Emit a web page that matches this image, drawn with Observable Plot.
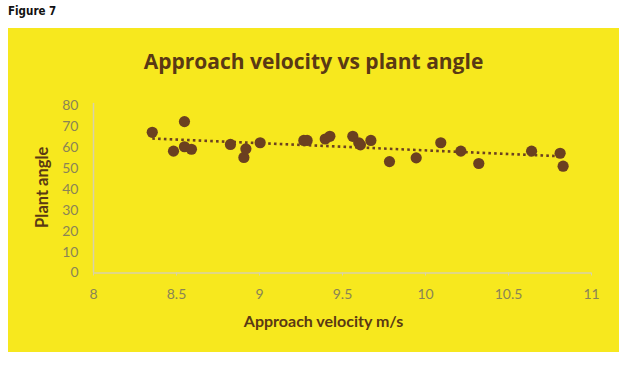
<!DOCTYPE html>
<html><head><meta charset="utf-8">
<script src="https://cdn.jsdelivr.net/npm/d3@7"></script>
<script src="https://cdn.jsdelivr.net/npm/@observablehq/plot@0.6"></script>
<style>
body{margin:0;background:#fff;width:637px;height:367px;position:relative;overflow:hidden;font-family:Lato,"Open Sans",sans-serif;}
#fig{position:absolute;left:8px;top:4px;font-family:"Liberation Sans Narrow","DejaVu Sans Condensed",sans-serif;font-weight:bold;font-size:11.5px;color:#111;}
#box{position:absolute;left:8px;top:28px;width:611px;height:324px;background:#f7e81e;}
#title{position:absolute;left:0;top:19px;width:611px;text-align:center;margin-left:0;font-family:"Open Sans",Lato,sans-serif;font-size:21px;font-weight:bold;color:#5a3914;}
#chart{position:absolute;left:0;top:0;}
</style></head><body>
<div id="fig">Figure 7</div>
<div id="box"><div id="title">Approach velocity vs plant angle</div><div id="chart"></div></div>
<script>
const velocity = [8.354, 8.482, 8.548, 8.548, 8.590, 8.825, 8.906, 8.918, 9.004, 9.267, 9.287, 9.396, 9.424, 9.562, 9.598, 9.608, 9.671, 9.783, 9.944, 10.092, 10.213, 10.321, 10.639, 10.811, 10.829];
const angle    = [67.2, 58.2, 72.3, 60.3, 59.1, 61.4, 55.2, 59.3, 62.2, 63.3, 63.3, 64.0, 65.3, 65.3, 62.2, 61.2, 63.3, 53.2, 55.0, 62.2, 58.2, 52.3, 58.2, 57.2, 51.0];
const xTicks = [8, 8.5, 9, 9.5, 10, 10.5, 11];
const yTicks = [0, 10, 20, 30, 40, 50, 60, 70, 80];
const xLabel = "Approach velocity m/s";
const yLabel = "Plant angle";

const data = velocity.map((v, i) => ({v, a: angle[i]}));
const brown = "#6b4020";
const tickColor = "#8a8456";
const axisColor = "#d8d2a8";

const plot = Plot.plot({
  width: 611, height: 324,
  marginLeft: 85, marginRight: 28, marginTop: 77, marginBottom: 79.5,
  style: {background: "transparent", fontFamily: "Lato, 'Open Sans', sans-serif", fontSize: "14px", color: tickColor},
  x: {domain: [8, 11]},
  y: {domain: [0, 80]},
  marks: [
    Plot.ruleX([8], {y1: 0, y2: 81, stroke: axisColor, strokeWidth: 1.5}),
    Plot.ruleY([0], {stroke: axisColor, strokeWidth: 1.5}),
    Plot.axisX({ticks: xTicks, tickFormat: d => String(d), tickSize: 3, tickPadding: 13, stroke: axisColor, fill: tickColor, label: null, fontSize: 14}),
    Plot.axisY({ticks: yTicks, tickSize: 0, tickPadding: 15, fill: tickColor, label: null, fontSize: 14}),
    Plot.linearRegressionY(data, {x: "v", y: "a", ci: 0, stroke: brown, strokeWidth: 2.6, strokeDasharray: "2.6,3.2", strokeLinecap: "butt"}),
    Plot.dot(data, {x: "v", y: "a", r: 5.6, fill: brown, stroke: "none"}),
    Plot.text([xLabel], {frameAnchor: "bottom", dy: 54, dx: -19, fontSize: 16, fontWeight: "bold", fill: "#5a3914"}),
    Plot.text([yLabel], {frameAnchor: "left", textAnchor: "middle", dx: -51, dy: -2, rotate: -90, fontSize: 16.5, fontWeight: "bold", fill: "#5a3914"})
  ]
});
document.getElementById("chart").appendChild(plot);
</script>
</body></html>
